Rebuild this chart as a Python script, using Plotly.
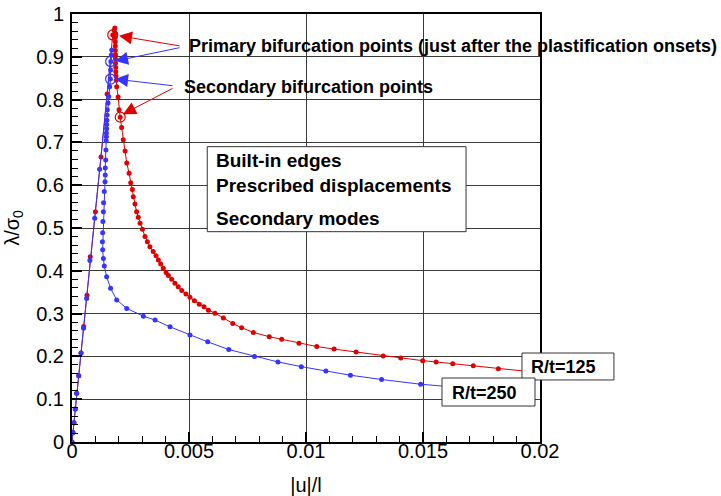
import plotly.graph_objects as go

# ---------------- data ----------------
# R/t = 250 (blue)
u_250 = [0, 0.00004, 0.000085, 0.00014, 0.0002, 0.000286, 0.000385, 0.000493, 0.000625, 0.000762,
         0.00097, 0.00118, 0.0017, 0.00168, 0.00166, 0.00165, 0.00164, 0.00161, 0.00157, 0.00154,
         0.00151, 0.0015, 0.00149, 0.00148, 0.00148, 0.00147, 0.00147, 0.00146, 0.00145, 0.00144,
         0.00142, 0.00142, 0.00141, 0.00138, 0.00135, 0.00134, 0.00132, 0.00131, 0.00130, 0.00131,
         0.00134, 0.00138, 0.00148, 0.00165, 0.00191, 0.00234, 0.00305, 0.00355, 0.00419, 0.00504,
         0.0058, 0.0067, 0.0078, 0.0088, 0.0098, 0.01085, 0.0119, 0.01323, 0.0149, 0.0166]
l_250 = [0, 0.022, 0.045, 0.077, 0.114, 0.155, 0.208, 0.266, 0.335, 0.424,
         0.523, 0.637, 0.916, 0.904, 0.889, 0.869, 0.848, 0.830, 0.807, 0.792,
         0.776, 0.764, 0.752, 0.742, 0.732, 0.722, 0.713, 0.704, 0.682, 0.659,
         0.640, 0.624, 0.608, 0.585, 0.559, 0.538, 0.515, 0.489, 0.468, 0.449,
         0.429, 0.411, 0.386, 0.359, 0.332, 0.312, 0.294, 0.285, 0.269, 0.250,
         0.234, 0.216, 0.200, 0.187, 0.176, 0.166, 0.156, 0.146, 0.135, 0.127]

# R/t = 125 (red)
u_125 = [0, 0.00004, 0.000085, 0.00014, 0.0002, 0.000286, 0.000385, 0.0005, 0.00064, 0.00078,
         0.001, 0.00124, 0.0015, 0.00174, 0.0018, 0.00183, 0.00184, 0.00184, 0.00185, 0.00185,
         0.00185, 0.00186, 0.00186, 0.00186, 0.00187, 0.00187, 0.00188, 0.00189, 0.00191, 0.00197,
         0.00201, 0.00206, 0.00212, 0.00219, 0.00227, 0.00234, 0.00244, 0.00251, 0.00258, 0.00262,
         0.00269, 0.00276, 0.00283, 0.00291, 0.00301, 0.00312, 0.00322, 0.00333, 0.00347, 0.00359,
         0.00369, 0.00379, 0.00390, 0.00402, 0.00412, 0.00426, 0.00440, 0.00454, 0.00469, 0.00487,
         0.00504, 0.00523, 0.00544, 0.00564, 0.00583, 0.00611, 0.00647, 0.00687, 0.00725, 0.00775,
         0.00843, 0.00896, 0.0097, 0.01046, 0.0112, 0.01214, 0.0133, 0.01405, 0.01499, 0.01556,
         0.01627, 0.01715, 0.01822, 0.0198]
l_125 = [0, 0.022, 0.045, 0.077, 0.114, 0.155, 0.208, 0.27, 0.343, 0.433,
         0.538, 0.666, 0.813, 0.951, 0.962, 0.967, 0.955, 0.945, 0.935, 0.925,
         0.915, 0.905, 0.895, 0.885, 0.875, 0.865, 0.855, 0.845, 0.830, 0.806,
         0.776, 0.759, 0.735, 0.706, 0.680, 0.652, 0.628, 0.606, 0.590, 0.573,
         0.556, 0.538, 0.525, 0.511, 0.497, 0.480, 0.468, 0.456, 0.445, 0.435,
         0.425, 0.416, 0.406, 0.396, 0.389, 0.380, 0.371, 0.363, 0.354, 0.346,
         0.338, 0.330, 0.322, 0.316, 0.308, 0.301, 0.290, 0.277, 0.267, 0.256,
         0.246, 0.240, 0.231, 0.223, 0.217, 0.210, 0.201, 0.196, 0.190, 0.187,
         0.183, 0.178, 0.171, 0.163]

# bifurcation points (open circles)
bif_red_u = [0.00174, 0.00206]
bif_red_l = [0.951, 0.759]
bif_blue_u = [0.00165, 0.00165]
bif_blue_l = [0.889, 0.848]

x_ticks = [0, 0.005, 0.01, 0.015, 0.02]
x_tick_text = ["0", "0.005", "0.01", "0.015", "0.02"]
y_ticks = [0, 0.1, 0.2, 0.3, 0.4, 0.5, 0.6, 0.7, 0.8, 0.9, 1]
y_tick_text = ["0", "0.1", "0.2", "0.3", "0.4", "0.5", "0.6", "0.7", "0.8", "0.9", "1"]

RED = "#e00000"
BLUE = "#3535ff"
REG = "Liberation Sans, Arial, sans-serif"
BOLD = "Liberation Sans, Arial, sans-serif"

fig = go.Figure()
fig.add_trace(go.Scatter(x=u_125, y=l_125, mode="lines+markers",
                         line=dict(color=RED, width=1),
                         marker=dict(color=RED, size=5), showlegend=False))
fig.add_trace(go.Scatter(x=u_250, y=l_250, mode="lines+markers",
                         line=dict(color=BLUE, width=1),
                         marker=dict(color=BLUE, size=5), showlegend=False))
fig.add_trace(go.Scatter(x=bif_red_u, y=bif_red_l, mode="markers",
                         marker=dict(symbol="circle-open", color=RED, size=10,
                                     line=dict(width=1.2, color=RED)), showlegend=False))
fig.add_trace(go.Scatter(x=bif_blue_u, y=bif_blue_l, mode="markers",
                         marker=dict(symbol="circle-open", color=BLUE, size=10,
                                     line=dict(width=1.2, color=BLUE)), showlegend=False))

axis_common = dict(showline=True, linecolor="black", linewidth=2, mirror=True,
                   showgrid=True, gridcolor="#3a3a3a", gridwidth=1, zeroline=False,
                   ticks="inside", ticklen=10, tickwidth=2, tickcolor="black",
                   tickfont=dict(family=REG, size=20, color="black"),
                   ticklabeloverflow="allow", automargin=False)

fig.update_xaxes(range=[0, 0.02], tickvals=x_ticks, ticktext=x_tick_text,
                 minor=dict(dtick=0.001, ticks="inside", ticklen=6, tickwidth=1,
                            tickcolor="black", showgrid=False),
                 title=dict(text="|u|/l", font=dict(family=REG, size=20, color="black"),
                            standoff=18),
                 ticklabelstandoff=-10,
                 **axis_common)
fig.update_yaxes(range=[0, 1], tickvals=y_ticks, ticktext=y_tick_text,
                 minor=dict(dtick=0.02, ticks="inside", ticklen=6, tickwidth=1,
                            tickcolor="black", showgrid=False),
                 title=dict(text="λ/σ<sub>0</sub>", font=dict(family=REG, size=20, color="black"),
                            standoff=11),
                 ticklabelstandoff=2,
                 **axis_common)

annotations = []
# arrows (tip in data coords, tail in data coords)
arrows = [
    (0.00201, 0.949, 0.00466, 0.925, RED),
    (0.00184, 0.890, 0.00466, 0.922, BLUE),
    (0.00184, 0.848, 0.00436, 0.832, BLUE),
    (0.00218, 0.766, 0.00436, 0.828, RED),
]
for (tx, ty, axx, ayy, col) in arrows:
    annotations.append(dict(x=tx, y=ty, ax=axx, ay=ayy, xref="x", yref="y",
                            axref="x", ayref="y", text="", showarrow=True,
                            arrowhead=2, arrowsize=2.6, arrowwidth=1, arrowcolor=col))

bold18 = dict(family=BOLD, size=18, color="black", weight="bold")
bold19 = dict(family=BOLD, size=19, color="black", weight="bold")
texts = [
    ("Primary bifurcation points (just after the plastification onsets)", 0.2457, 0.9252, bold18),
    ("Secondary bifurcation points", 0.234, 0.830, bold18),
    ("Built-in edges", 0.3034, 0.657, bold19),
    ("Prescribed displacements", 0.3034, 0.599, bold19),
    ("Secondary modes", 0.3034, 0.5227, bold19),
    ("R/t=125", 0.9765, 0.1752, bold18),
    ("R/t=250", 0.8077, 0.1145, bold18),
]
for (t, xx, yy, f) in texts:
    annotations.append(dict(x=xx, y=yy, xref="paper", yref="paper", text=t,
                            showarrow=False, xanchor="left", yanchor="middle", font=f))

shapes = [
    dict(type="rect", xref="paper", yref="paper", x0=0.289, x1=0.842, y0=0.4914, y1=0.690,
         line=dict(color="#333333", width=1), fillcolor="white", layer="above"),
    dict(type="rect", xref="paper", yref="paper", x0=0.9615, x1=1.158, y0=0.1449, y1=0.2079,
         line=dict(color="#333333", width=1), fillcolor="white", layer="above"),
    dict(type="rect", xref="paper", yref="paper", x0=0.7906, x1=0.9893, y0=0.0841, y1=0.1495,
         line=dict(color="#333333", width=1), fillcolor="white", layer="above"),
]

fig.update_layout(width=721, height=496, margin=dict(l=72, r=181, t=14, b=54),
                  paper_bgcolor="white", plot_bgcolor="white",
                  annotations=annotations, shapes=shapes, showlegend=False)

# remove the default 8 px page margin so the figure sits at the window's corner
fig.write_html("out.html", config={"displayModeBar": False},
               post_script="document.body.style.margin='0';")
